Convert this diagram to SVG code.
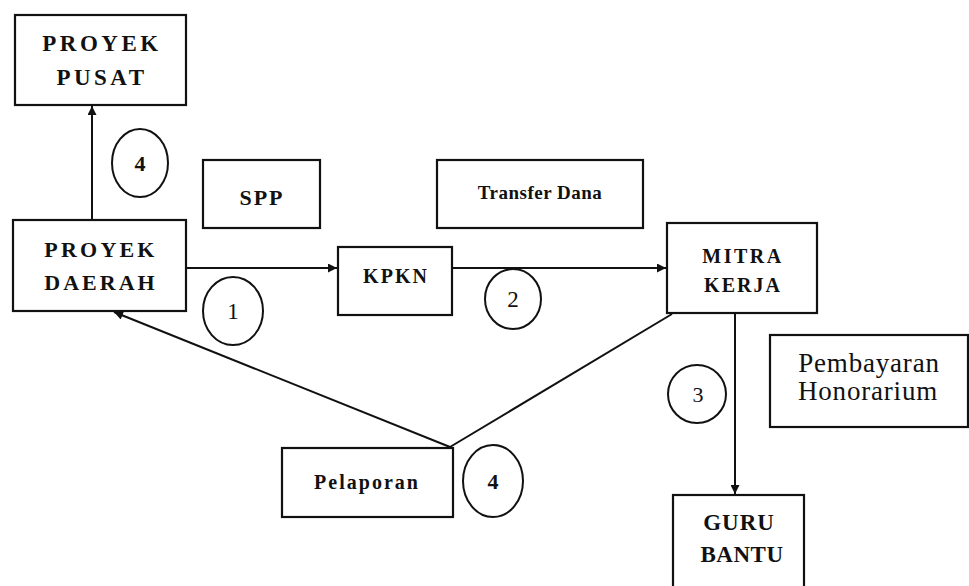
<svg xmlns="http://www.w3.org/2000/svg" width="969" height="586" viewBox="0 0 969 586">
<style>
.box{fill:none;stroke:#111;stroke-width:2.2}
.line{fill:none;stroke:#111;stroke-width:2}
.circ{fill:none;stroke:#111;stroke-width:2}
text{font-family:"Liberation Serif","Times New Roman",serif;fill:#111;text-anchor:middle}
.b{font-weight:bold}
</style>
<defs>
<marker id="arr" viewBox="0 0 10 10" refX="10" refY="5" markerWidth="10" markerHeight="9" markerUnits="userSpaceOnUse" orient="auto">
<path d="M0,0 L10,5 L0,10 z" fill="#111"/>
</marker>
</defs>
<rect width="969" height="586" fill="#fff"/>
<g id="connectors">
<line class="line" x1="92" y1="220" x2="92" y2="106" marker-end="url(#arr)"/>
<line class="line" x1="186" y1="268" x2="337" y2="268" marker-end="url(#arr)"/>
<line class="line" x1="452" y1="268" x2="666" y2="268" marker-end="url(#arr)"/>
<line class="line" x1="735" y1="313" x2="735" y2="494" marker-end="url(#arr)"/>
<line class="line" x1="450" y1="447" x2="114" y2="312" marker-end="url(#arr)"/>
<line class="line" x1="450" y1="447" x2="672" y2="314"/>
</g>
<g id="proyek-pusat">
<rect class="box" x="15" y="15" width="171" height="90"/>
<text class="b" x="102" y="51" font-size="23" letter-spacing="3.5">PROYEK</text>
<text class="b" x="102" y="85" font-size="23" letter-spacing="3.5">PUSAT</text>
</g>
<g id="spp">
<rect class="box" x="203" y="160" width="117" height="68"/>
<text class="b" x="262" y="205" font-size="22" letter-spacing="2">SPP</text>
</g>
<g id="transfer-dana">
<rect class="box" x="437" y="160" width="206" height="68"/>
<text class="b" x="540" y="199" font-size="19" letter-spacing="0.5">Transfer Dana</text>
</g>
<g id="proyek-daerah">
<rect class="box" x="13" y="220" width="173" height="91"/>
<text class="b" x="101" y="257" font-size="22" letter-spacing="3.2">PROYEK</text>
<text class="b" x="101" y="290" font-size="22" letter-spacing="3">DAERAH</text>
</g>
<g id="kpkn">
<rect class="box" x="338" y="247" width="114" height="68"/>
<text class="b" x="396" y="283" font-size="20" letter-spacing="2">KPKN</text>
</g>
<g id="mitra-kerja">
<rect class="box" x="667" y="223" width="150" height="90"/>
<text class="b" x="743" y="263" font-size="20" letter-spacing="2.5">MITRA</text>
<text class="b" x="743" y="292" font-size="20" letter-spacing="2">KERJA</text>
</g>
<g id="pembayaran-honorarium">
<rect class="box" x="770" y="335" width="198" height="92"/>
<text x="869" y="372" font-size="27" letter-spacing="0.8">Pembayaran</text>
<text x="868" y="400" font-size="27" letter-spacing="0.8">Honorarium</text>
</g>
<g id="pelaporan">
<rect class="box" x="282" y="448" width="171" height="69"/>
<text class="b" x="367" y="489" font-size="20" letter-spacing="2">Pelaporan</text>
</g>
<g id="guru-bantu">
<rect class="box" x="673" y="495" width="131" height="100"/>
<text class="b" x="739" y="530" font-size="23" letter-spacing="1">GURU</text>
<text class="b" x="742" y="562" font-size="23" letter-spacing="0.5">BANTU</text>
</g>
<g id="step-4-top">
<ellipse class="circ" cx="140" cy="163" rx="28" ry="34"/>
<text class="b" x="140" y="171" font-size="22">4</text>
</g>
<g id="step-1">
<ellipse class="circ" cx="233" cy="311" rx="30" ry="34"/>
<text x="233" y="319" font-size="23">1</text>
</g>
<g id="step-2">
<ellipse class="circ" cx="513" cy="299" rx="28" ry="30"/>
<text x="513" y="307" font-size="23">2</text>
</g>
<g id="step-3">
<ellipse class="circ" cx="697" cy="394" rx="29" ry="29"/>
<text x="698" y="402" font-size="22">3</text>
</g>
<g id="step-4-bottom">
<ellipse class="circ" cx="493" cy="481" rx="30" ry="36"/>
<text class="b" x="493" y="489" font-size="22">4</text>
</g>
</svg>
